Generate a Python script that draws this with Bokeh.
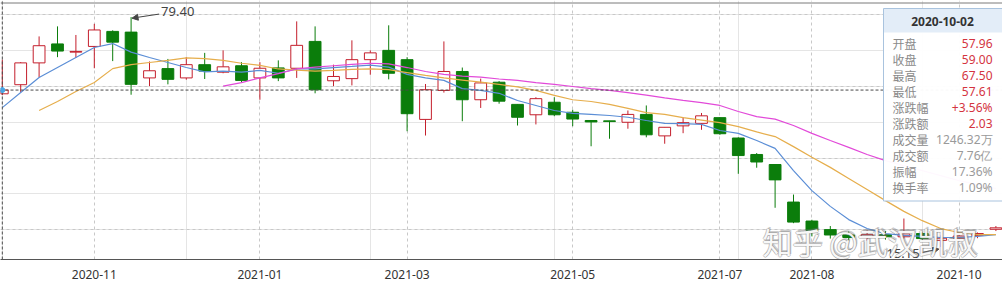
import numpy as np
from bokeh.plotting import figure
from bokeh.models import (Range1d, FixedTicker, Grid, LinearAxis, Span, Arrow,
                          NormalHead, ColumnDataSource, Label)
from bokeh.core.properties import value
from bokeh.embed import file_html
from bokeh.resources import INLINE

# ---------------- data (weekly candles) ----------------
opens = [57.96, 60.5, 66.6, 71.9, 69.6, 71.2, 75.4, 75.2, 62.4, 65.0,
         62.4, 66.1, 64.0, 65.8, 62.4, 65.2, 65.1, 72.6, 61.6, 62.2,
         67.5, 70.1, 67.5, 50.8, 58.9, 64.2, 56.3, 61.2, 55.0, 52.1,
         55.6, 52.8, 50.5, 50.4, 50.0, 52.2, 46.2, 49.0, 49.7, 51.3,
         45.6, 41.0, 38.2, 27.7, 22.4, 20.0, 18.5, 17.8, 18.6, 18.0,
         18.9, 17.0, 17.6, 18.4, 20.1]
highs = [67.50, 66.8, 74.0, 76.8, 74.4, 77.5, 75.7, 79.40, 67.0, 67.7,
         68.2, 69.4, 70.1, 66.8, 66.8, 67.3, 78.2, 76.8, 66.1, 72.9,
         70.1, 77.1, 68.2, 60.7, 72.6, 65.3, 62.2, 61.5, 55.0, 57.0,
         57.0, 53.5, 50.5, 50.4, 53.3, 54.7, 48.6, 51.4, 52.6, 51.4,
         45.8, 41.4, 38.2, 29.8, 22.75, 21.0, 19.5, 19.8, 19.6, 23.1,
         19.2, 18.4, 18.8, 19.2, 21.0]
lows = [57.61, 58.4, 62.6, 68.2, 68.0, 65.1, 67.1, 57.7, 60.1, 60.6,
        61.9, 62.1, 63.7, 61.2, 56.3, 61.5, 62.4, 58.1, 60.1, 60.3,
        63.3, 62.0, 47.5, 46.3, 58.3, 50.3, 54.0, 55.2, 49.1, 49.4,
        51.7, 48.9, 43.3, 45.4, 48.2, 45.8, 44.0, 46.95, 47.9, 46.5,
        35.6, 37.3, 26.1, 21.8, 18.1, 17.5, 16.8, 16.9, 17.2, 17.5,
        16.8, 15.15, 16.8, 17.6, 19.6]
closes = [59.00, 66.6, 71.4, 69.9, 69.8, 75.8, 72.4, 60.6, 64.4, 62.0,
          66.1, 64.3, 65.5, 61.7, 65.1, 62.4, 71.5, 59.1, 62.8, 67.5,
          69.4, 63.7, 52.4, 59.1, 64.2, 56.3, 61.0, 55.9, 51.4, 56.6,
          52.1, 50.9, 50.1, 50.2, 52.2, 46.5, 48.6, 49.9, 51.8, 46.8,
          40.7, 38.9, 33.9, 22.1, 19.75, 18.5, 17.8, 18.6, 18.0, 18.8,
          17.5, 17.6, 18.2, 18.9, 20.5]

ma5 = [54.1, 58.3, 62.5, 65.3, 68.1, 70.9, 72.0, 69.6, 68.1, 66.7,
       65.3, 64.1, 64.3, 64.0, 64.5, 63.7, 64.9, 64.9, 65.3, 65.6,
       66.0, 65.4, 63.4, 62.4, 61.7, 59.4, 58.9, 58.1, 56.1, 54.7,
       53.3, 52.5, 52.2, 51.9, 51.4, 50.5, 49.7, 49.6, 49.4, 47.7,
       46.9, 44.9, 42.7, 36.5, 30.9, 26.5, 22.8, 20.3, 18.9, 18.4,
       18.1, 17.8, 17.8, 18.1, 18.6]
ma10 = [None, None, 53.3, 55.8, 58.6, 61.1, 65.0, 66.1, 66.7, 67.3,
        68.0, 67.8, 67.3, 66.5, 65.9, 64.9, 64.6, 64.3, 64.5, 64.8,
        64.9, 64.7, 63.9, 63.1, 62.4, 61.8, 61.2, 60.6, 59.9, 58.9,
        57.5, 56.3, 55.8, 55.0, 53.9, 52.7, 52.2, 51.3, 50.6, 49.9,
        48.8, 47.3, 46.0, 43.2, 40.2, 37.4, 34.3, 31.2, 28.1, 25.1,
        22.5, 20.3, 19.2, 18.6, 18.6]
ma20 = [None] * 12 + [
        60.1, 61.1, 62.4, 63.6, 64.9, 65.4, 65.8, 66.2,
        66.5, 66.3, 65.3, 64.2, 63.4, 62.9, 62.6, 62.1, 61.7, 61.1,
        60.6, 60.0, 59.4, 58.9, 58.3, 57.6, 56.8, 56.1, 55.5, 54.7,
        53.0, 51.6, 50.9, 49.1, 46.9, 44.9, 43.0, 41.0, 39.3, 37.9,
        36.5, 35.1, 33.7, 32.6, 31.5]

tick_idx = [5, 14, 22, 31, 39, 44, 52]
tick_labels = ["2020-11", "2021-01", "2021-03", "2021-05", "2021-07", "2021-08", "2021-10"]
grid_prices = [20, 40, 60, 80]

sel_date = "2020-10-02"
info_labels = ["开盘", "收盘", "最高", "最低", "涨跌幅", "涨跌额", "成交量", "成交额", "振幅", "换手率"]
info_values = ["57.96", "59.00", "67.50", "57.61", "+3.56%", "2.03", "1246.32万", "7.76亿", "17.36%", "1.09%"]
watermark = "知乎 @武汉凯叔"

# ---------------- pixel helpers (layout only) ----------------
X0, DX = 1.8, 18.4
PY60, K = 86.0, 3.578
def X(px):
    return (px - X0) / DX
def Y(py):
    return 60 - (py - PY60) / K

RED, GREEN = "#c41f2c", "#0b7d0b"
n = len(opens)
idx = list(range(n))
up = [c >= o for o, c in zip(opens, closes)]
col = [RED if u else GREEN for u in up]
fill = ["#ffffff" if u else GREEN for u in up]
src = ColumnDataSource(dict(x=idx, o=opens, c=closes, h=highs, l=lows,
                            top=[max(a, b) for a, b in zip(opens, closes)],
                            bot=[min(a, b) for a, b in zip(opens, closes)],
                            col=col, fill=fill))

p = figure(width=1002, height=281, output_backend="svg", toolbar_location=None,
           x_axis_location=None, y_axis_location=None,
           x_range=Range1d(X(0), X(1002)), y_range=Range1d(Y(259), Y(0)),
           min_border_left=0, min_border_right=0, min_border_top=0, min_border_bottom=22)
p.outline_line_color = None
p.background_fill_color = "#ffffff"
p.border_fill_color = "#ffffff"

ax = LinearAxis(ticker=FixedTicker(ticks=tick_idx),
                major_label_overrides={t: l for t, l in zip(tick_idx, tick_labels)})
ax.axis_line_color = "#555555"
ax.major_tick_line_color = None
ax.minor_tick_line_color = None
ax.major_label_standoff = 4
ax.major_label_text_font = "Noto Sans"
ax.major_label_text_font_size = "12px"
ax.major_label_text_color = "#333333"
p.add_layout(ax, "below")

p.add_layout(Grid(dimension=0, ticker=FixedTicker(ticks=tick_idx),
                  grid_line_color="#c8c8c8", grid_line_dash="3 3"))
p.add_layout(Grid(dimension=1, ticker=FixedTicker(ticks=grid_prices),
                  grid_line_color="#c8c8c8", grid_line_dash="3 3"))

# top border
p.add_layout(Span(location=Y(2.5), dimension="width", line_color="#7a7a7a", line_width=1))

# candles
p.segment(x0="x", y0="l", x1="x", y1="h", line_color="col", line_width=1, source=src)
p.vbar(x="x", width=0.64, top="top", bottom="bot", fill_color="fill",
       line_color="col", line_width=1, source=src)

# moving averages
def arr(a):
    return np.array([np.nan if v is None else v for v in a], dtype=float)
p.line(idx, arr(ma5), line_color="#5b8ed6", line_width=1.2)
p.line(idx, arr(ma10), line_color="#e6ae4c", line_width=1.2)
p.line(idx, arr(ma20), line_color="#e24ad9", line_width=1.2)

# crosshair on selected candle (index 0)
sel = 0
p.segment(x0=[sel], y0=[Y(259)], x1=[sel], y1=[Y(0)], line_color="#4a4a4a", line_dash="3 2")
p.segment(x0=[X(0)], y0=[closes[sel]], x1=[X(1002)], y1=[closes[sel]], line_color="#4a4a4a", line_dash="3 2")
p.scatter([sel], [closes[sel]], size=5, color="#4aa6e6")

# max / min annotations
imax = int(np.argmax(highs))
imin = int(np.argmin(lows))
p.add_layout(Arrow(end=NormalHead(size=6, fill_color="#444444", line_color="#444444"),
                   x_start=imax + X(159) - X(131), y_start=highs[imax] + (Y(11) - Y(14)),
                   x_end=imax + 0.05, y_end=highs[imax] - 0.3,
                   line_color="#444444", line_width=1))
p.add_layout(Label(x=imax + X(161) - X(131), y=Y(11), text=f"{highs[imax]:.2f}",
                   text_font="Noto Sans", text_font_size="13px", text_color="#444444",
                   text_baseline="middle", text_align="left"))
p.add_layout(Arrow(end=NormalHead(size=6, fill_color="#444444", line_color="#444444"),
                   x_start=imin - (X(938) - X(919)), y_start=Y(252),
                   x_end=imin - 0.1, y_end=lows[imin] - 0.6,
                   line_color="#444444", line_width=1))
p.add_layout(Label(x=imin - (X(938) - X(917)), y=Y(252.5), text=f"{lows[imin]:.2f}",
                   text_font="Noto Sans", text_font_size="13px", text_color="#444444",
                   text_baseline="middle", text_align="right"))

# watermark
for dx, dy in [(-1, 0), (1, 0), (0, -1), (0, 1), (1.5, 1.5)]:
    p.add_layout(Label(x=X(762), y=Y(240), text=watermark, x_offset=dx, y_offset=dy,
                       text_font="Noto Sans CJK SC", text_font_size="30px",
                       text_color="#707070", text_alpha=0.35,
                       text_baseline="middle", text_align="left"))
p.add_layout(Label(x=X(762), y=Y(240), text=watermark,
                   text_font="Noto Sans CJK SC", text_font_size="30px",
                   text_color="#ffffff", text_alpha=0.95,
                   text_baseline="middle", text_align="left"))

# info panel
r1 = p.quad(left=[X(883)], right=[X(1010)], top=[Y(8)], bottom=[Y(200.5)],
            fill_color="#ffffff", fill_alpha=0.96, line_color="#a9c3de", line_width=1)
r2 = p.quad(left=[X(883.5)], right=[X(1010)], top=[Y(8.5)], bottom=[Y(32)],
            fill_color="#e3edf8", line_color=None)
r3 = p.text(x=[X(942)], y=[Y(21)], text=[sel_date], text_font=value("Noto Sans"),
            text_font_size="12px", text_font_style="bold", text_color="#333333",
            text_align="center", text_baseline="middle")
row_y = [Y(43 + 16.05 * i) for i in range(len(info_labels))]
val_col = ["#d4343f"] * 6 + ["#9a9a9a"] * 4
r4 = p.text(x=[X(892)] * len(info_labels), y=row_y, text=info_labels,
            text_font=value("Noto Sans CJK SC"), text_font_size="12px", text_color="#8a8a8a",
            text_align="left", text_baseline="middle")
r5 = p.text(x=[X(992)] * len(info_values), y=row_y, text=info_values, text_color=val_col,
            text_font=value("Noto Sans"), text_font_size="12px",
            text_align="right", text_baseline="middle")
for r in (r1, r2, r3, r4, r5):
    r.level = "overlay"

open("out.html", "w").write(file_html(p, INLINE))
